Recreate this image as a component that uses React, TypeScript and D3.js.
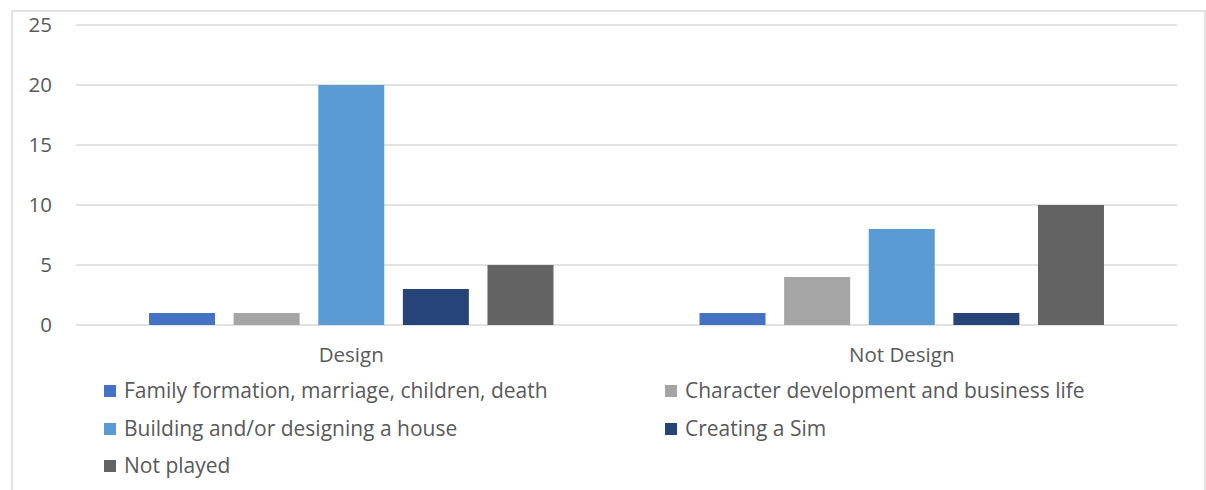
import React from "react";
import * as d3 from "d3";

const categories = ["Design", "Not Design"];
const seriesNames = [
  "Family formation, marriage, children, death",
  "Character development and business life",
  "Building and/or designing a house",
  "Creating a Sim",
  "Not played",
];
const seriesColors = ["#4472C4", "#A5A5A5", "#5B9BD5", "#264478", "#636363"];
// values[series][category]
const familyValues = [1, 1];
const characterValues = [1, 4];
const buildingValues = [20, 8];
const creatingValues = [3, 1];
const notPlayedValues = [5, 10];
const seriesValues = [familyValues, characterValues, buildingValues, creatingValues, notPlayedValues];
const yTicks = [0, 5, 10, 15, 20, 25];

const W = 1206;
const H = 490;
const plot = { left: 76, right: 1177, top: 25, bottom: 325 };
const FONT = "'Open Sans', Lato, sans-serif";
const TEXT = "#595959";

export default function App() {
  const x0 = d3.scaleBand<string>().domain(categories).range([plot.left, plot.right]);
  const x1 = d3
    .scaleBand<number>()
    .domain(d3.range(seriesNames.length))
    .range([0, x0.bandwidth()])
    .paddingInner(0.22)
    .paddingOuter(0.863);
  const y = d3.scaleLinear().domain([0, 25]).range([plot.bottom, plot.top]);

  const legendCols = [104, 665];
  const legendRows = [391, 429, 466];

  return (
    <svg
      width={W}
      height={H}
      style={{ position: "absolute", left: 0, top: 0, background: "#fff" }}
      fontFamily={FONT}
    >
      <rect x={12} y={11} width={1193} height={H} fill="#fff" stroke="#d9d9d9" strokeWidth={1.5} />
      {yTicks.map((t) => (
        <g key={t}>
          <line x1={plot.left} x2={plot.right} y1={y(t)} y2={y(t)} stroke="#d9d9d9" strokeWidth={1.5} />
          <text x={52} y={y(t)} dy="0.35em" textAnchor="end" fontSize={20.5} fill={TEXT}>
            {t}
          </text>
        </g>
      ))}
      {categories.map((c, ci) => (
        <g key={c} transform={`translate(${x0(c)},0)`}>
          {seriesValues.map((vals, si) => (
            <rect
              key={si}
              x={x1(si)}
              y={y(vals[ci])}
              width={x1.bandwidth()}
              height={y(0) - y(vals[ci])}
              fill={seriesColors[si]}
            />
          ))}
          <text x={x0.bandwidth() / 2} y={362} textAnchor="middle" fontSize={20.5} fill={TEXT}>
            {c}
          </text>
        </g>
      ))}
      {seriesNames.map((name, i) => {
        const cx = legendCols[i % 2];
        const cy = legendRows[Math.floor(i / 2)];
        return (
          <g key={name}>
            <rect x={cx} y={cy - 6} width={12} height={12} fill={seriesColors[i]} />
            <text x={cx + 20} y={cy} dy="0.35em" fontSize={21} fill={TEXT}>
              {name}
            </text>
          </g>
        );
      })}
    </svg>
  );
}
